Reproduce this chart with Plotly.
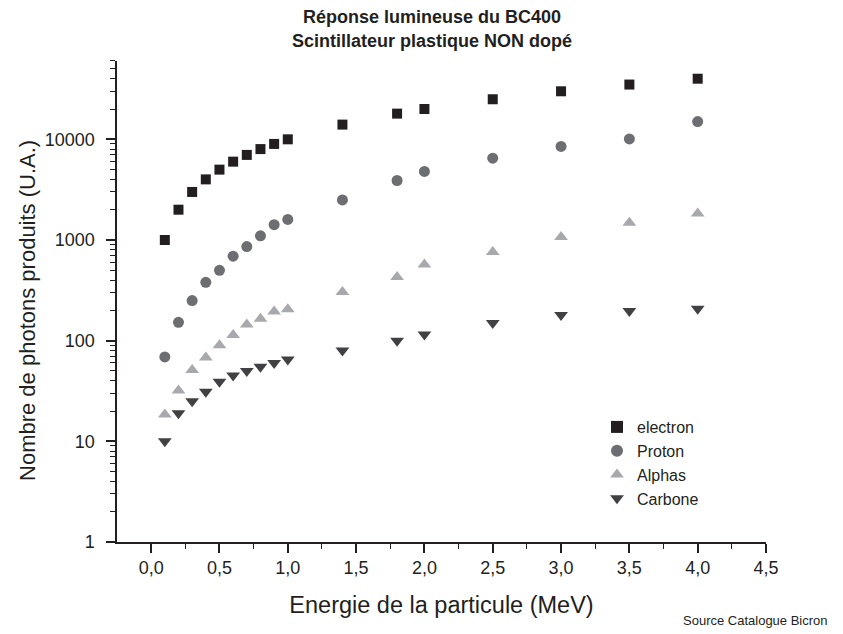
import plotly.graph_objects as go

# ---- data ----
energy_e = [0.1, 0.2, 0.3, 0.4, 0.5, 0.6, 0.7, 0.8, 0.9, 1.0, 1.4, 1.8, 2.0, 2.5, 3.0, 3.5, 4.0]
electron = [1000, 2000, 3000, 4000, 5000, 6000, 7000, 8000, 9000, 10000, 14000, 18000, 20000, 25000, 30000, 35000, 40000]
proton = [69, 152, 250, 380, 500, 690, 860, 1100, 1420, 1600, 2500, 3900, 4800, 6500, 8500, 10100, 15000]
alphas = [18.5, 32, 51, 68, 90, 114, 145, 165, 195, 205, 305, 430, 570, 760, 1070, 1480, 1830]
carbone = [10, 19, 25, 31, 39, 45, 50, 55, 60, 65, 80, 100, 115, 150, 180, 197, 207]

series_names = ["electron", "Proton", "Alphas", "Carbone"]
series_values = [electron, proton, alphas, carbone]
series_symbols = ["square", "circle", "triangle-up", "triangle-down"]
series_colors = ["#231f20", "#6d6e71", "#a7a9ac", "#414042"]
series_sizes = [10, 11, 12, 12]

x_ticks = [0, 0.5, 1.0, 1.5, 2.0, 2.5, 3.0, 3.5, 4.0, 4.5]
x_tick_labels = ["0,0", "0,5", "1,0", "1,5", "2,0", "2,5", "3,0", "3,5", "4,0", "4,5"]
x_minor = [0.25, 0.75, 1.25, 1.75, 2.25, 2.75, 3.25, 3.75, 4.25]
y_ticks = [1, 10, 100, 1000, 10000]
y_tick_labels = ["1", "10", "100", "1000", "10000"]
y_minor = [m * d for d in [1, 10, 100, 1000, 10000] for m in range(2, 10) if m * d <= 60000]

FONT = "Liberation Sans, Arial, sans-serif"
INK = "#231f20"
# transparent spacer glyph: pushes the y tick labels a little away from the axis
PAD = "<span style='font-size:14px;color:rgba(0,0,0,0)'>0</span>"

fig = go.Figure()
for name, vals, sym, col, sz in zip(series_names, series_values, series_symbols, series_colors, series_sizes):
    fig.add_trace(go.Scatter(
        x=energy_e, y=vals, mode="markers", name=name,
        marker=dict(symbol=sym, color=col, size=sz, line=dict(width=0)),
    ))

fig.update_layout(
    width=843, height=634,
    paper_bgcolor="white", plot_bgcolor="white",
    margin=dict(l=109, r=85, t=53, b=100),
    font=dict(family=FONT, color=INK),
    title=dict(
        text="<b>Réponse lumineuse du BC400<br>Scintillateur plastique NON dopé</b>",
        x=0.503, xanchor="center", y=0.976, yanchor="top",
        font=dict(size=18, family=FONT, color=INK),
    ),
    showlegend=True,
    legend=dict(
        x=0.7396, y=0.2744, xanchor="left", yanchor="top",
        font=dict(size=16, family=FONT, color=INK),
        bgcolor="rgba(0,0,0,0)", tracegroupgap=0, itemsizing="constant",
    ),
    annotations=[
        dict(
            text="Source Catalogue Bicron", xref="paper", yref="paper",
            x=1.0986, y=-0.1622, xanchor="right", yanchor="middle", showarrow=False,
            font=dict(size=13, family=FONT, color=INK),
        ),
        dict(
            text="Nombre de photons produits (U.A.)", xref="paper", yref="paper",
            x=-0.1387, y=0.4823, xanchor="center", yanchor="middle", showarrow=False,
            textangle=-90, font=dict(size=22, family=FONT, color=INK),
        ),
    ],
)

fig.update_xaxes(
    range=[-0.25, 4.5], showgrid=False, zeroline=False,
    showline=True, linecolor=INK, linewidth=1.5,
    tickmode="array", tickvals=x_ticks, ticktext=x_tick_labels,
    ticks="outside", ticklen=9, tickwidth=1.5, tickcolor=INK,
    tickfont=dict(size=18, family=FONT, color=INK),
    minor=dict(tickmode="array", tickvals=x_minor, ticks="outside", ticklen=5,
               tickwidth=1.2, tickcolor=INK, showgrid=False),
    title=dict(text="Energie de la particule (MeV)", standoff=19,
               font=dict(size=23.5, family=FONT, color=INK)),
)
fig.update_yaxes(
    type="log", range=[0, 4.778], showgrid=False, zeroline=False,
    showline=True, linecolor=INK, linewidth=1.5,
    tickmode="array", tickvals=y_ticks, ticktext=[t + PAD for t in y_tick_labels],
    ticks="outside", ticklen=9, tickwidth=1.5, tickcolor=INK,
    tickfont=dict(size=18, family=FONT, color=INK),
    minor=dict(tickmode="array", tickvals=y_minor, ticks="outside", ticklen=5,
               tickwidth=1.2, tickcolor=INK, showgrid=False),
)

fig.write_html("out.html")
